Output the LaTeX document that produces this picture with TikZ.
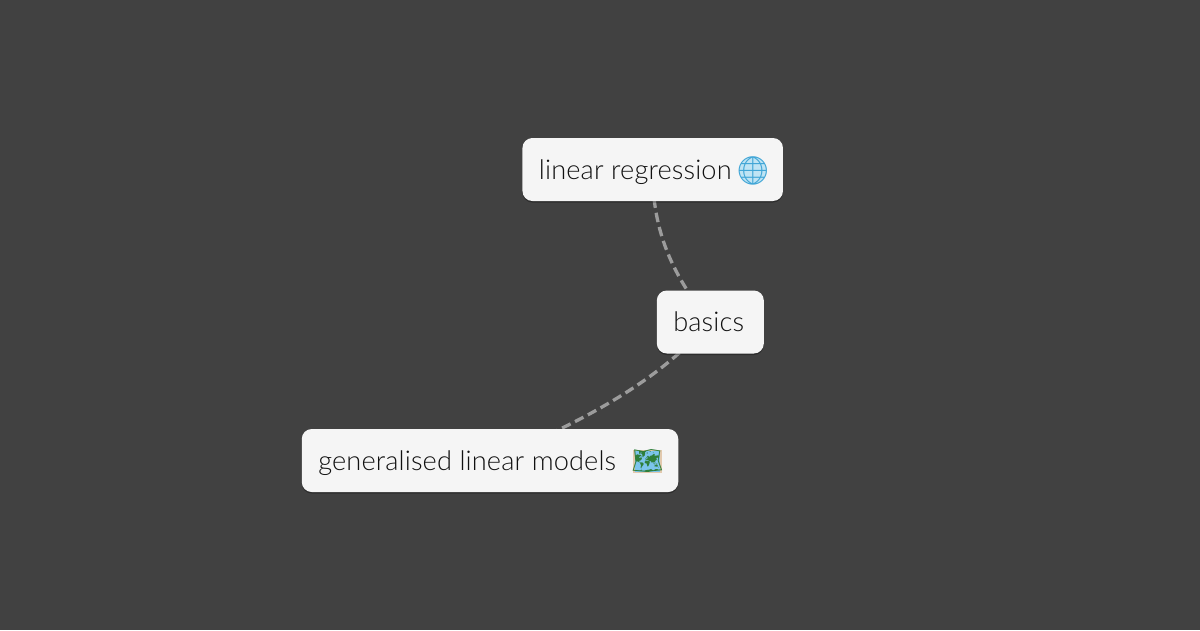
\documentclass[tikz,border=0pt]{standalone}
\usepackage{fontspec}
\setmainfont{Lato Light}[LetterSpace=0.5]
\newfontfamily\emojifont{Noto Emoji}
\usetikzlibrary{shadows}
\definecolor{bgdark}{HTML}{414141}
\definecolor{boxlight}{HTML}{F5F5F5}
\definecolor{inkdark}{HTML}{111111}
\definecolor{linkgrey}{HTML}{9C9C9C}
\definecolor{globeblue}{HTML}{3FA5D6}
\definecolor{globepale}{HTML}{BFE4F4}
\definecolor{mapgreen}{HTML}{2F7F3A}
\definecolor{mapsea}{HTML}{7CC4EC}
\definecolor{maprim}{HTML}{E2C9AE}
\tikzset{
  x=1pt,y=-1pt,
  topicbox/.style={draw=none,fill=boxlight,rounded corners=10pt,text=inkdark,
    inner xsep=16.5pt,inner ysep=0pt,minimum height=63pt,anchor=center,
    font=\fontsize{27.2}{30}\selectfont,
    drop shadow={shadow xshift=0pt,shadow yshift=-1.5pt,opacity=.3,fill=black}},
  linkline/.style={draw=linkgrey,line width=3.3pt,dash pattern=on 9.5pt off 5pt},
  emojiglyph/.style={inner sep=0pt,font=\emojifont\fontsize{28}{30}\selectfont}
}
\newcommand{\boxtext}[2]{\smash{\raisebox{-9.7pt}{\makebox[#1][l]{#2}}}}
\begin{document}
\begin{tikzpicture}
\useasboundingbox (0,0) rectangle (1200,630);
\fill[bgdark] (0,0) rectangle (1200,630);
\coordinate (lrc) at (652.7,169.5);
\coordinate (bac) at (710.3,322);
\coordinate (glc) at (490,460.5);
\draw[linkline] (lrc) .. controls (652,230) and (672,275) .. (bac);
\draw[linkline] (bac) .. controls (655,385) and (577,424) .. (glc);
\node[topicbox] (lr) at (lrc) {\boxtext{227.5pt}{linear regression}};
\node[topicbox] (ba) at (bac) {\boxtext{74pt}{basics}};
\node[topicbox] (gl) at (glc) {\boxtext{343.5pt}{generalised linear models}};
\fill[globepale] (753,170.5) circle (13.5);
\node[emojiglyph,text=globeblue] (globe) at (753,170.5) {🌐};
\fill[mapsea,draw=maprim,line width=1.2pt] (634,450.5) rectangle (661,472.5);
\node[emojiglyph,text=mapgreen,font=\emojifont\fontsize{25}{30}\selectfont] (map) at (647.5,461) {🗺};
\end{tikzpicture}
\end{document}
